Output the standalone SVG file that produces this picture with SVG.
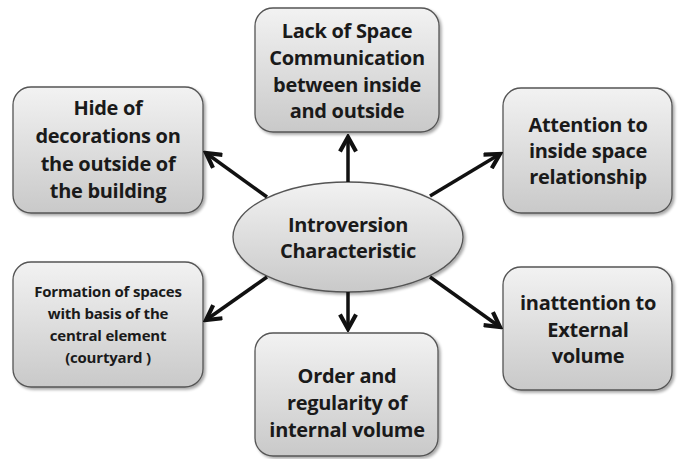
<svg xmlns="http://www.w3.org/2000/svg" width="680" height="459" viewBox="0 0 680 459">
<defs>
<linearGradient id="g" x1="0" y1="0" x2="0" y2="1">
<stop offset="0" stop-color="#f2f2f2"/>
<stop offset="1" stop-color="#c9c9c9"/>
</linearGradient>
<filter id="sh" x="-10%" y="-10%" width="130%" height="130%">
<feGaussianBlur in="SourceAlpha" stdDeviation="1.5"/>
<feOffset dx="1.5" dy="2" result="o"/>
<feComponentTransfer><feFuncA type="linear" slope="0.35"/></feComponentTransfer>
<feMerge><feMergeNode/><feMergeNode in="SourceGraphic"/></feMerge>
</filter>
<marker id="ah" viewBox="0 0 12 12" refX="10" refY="6" markerWidth="5.5" markerHeight="5.5" orient="auto" markerUnits="strokeWidth">
<path d="M1,1 L10,6 L1,11" fill="none" stroke="#111" stroke-width="2.6" stroke-linejoin="miter"/>
</marker>
<style>
.box{fill:url(#g);stroke:#555;stroke-width:1.3;filter:url(#sh)}
.t{font-family:"Open Sans","Liberation Sans",sans-serif;font-weight:bold;fill:#1a1a1a;text-anchor:middle}
.big{font-size:20px;letter-spacing:-0.3px}
.sm{font-size:15px;letter-spacing:-0.2px}
.c line{stroke:#111;stroke-width:3.5;marker-end:url(#ah)}
</style>
</defs>
<rect width="680" height="459" fill="#fff"/>
<g id="top">
<rect class="box" x="255" y="8" width="184" height="124" rx="18"/>
<text class="t big" x="347" y="38">Lack of Space</text>
<text class="t big" x="347" y="65">Communication</text>
<text class="t big" x="347" y="92">between inside</text>
<text class="t big" x="347" y="118">and outside</text>
</g>
<g id="topleft">
<rect class="box" x="13" y="87" width="190" height="126" rx="18"/>
<text class="t big" x="108" y="115">Hide of</text>
<text class="t big" x="108" y="143">decorations on</text>
<text class="t big" x="108" y="171">the outside of</text>
<text class="t big" x="108" y="198">the building</text>
</g>
<g id="topright">
<rect class="box" x="503" y="88" width="169" height="125" rx="18"/>
<text class="t big" x="588" y="132">Attention to</text>
<text class="t big" x="588" y="158">inside space</text>
<text class="t big" x="588" y="184">relationship</text>
</g>
<g id="bottomleft">
<rect class="box" x="13" y="262" width="190" height="125" rx="18"/>
<text class="t sm" x="108" y="297">Formation of spaces</text>
<text class="t sm" x="108" y="319">with basis of the</text>
<text class="t sm" x="108" y="341">central element</text>
<text class="t sm" x="108" y="363">(courtyard )</text>
</g>
<g id="bottom">
<rect class="box" x="255" y="333" width="183" height="123" rx="18"/>
<text class="t big" x="347" y="383">Order and</text>
<text class="t big" x="347" y="410">regularity of</text>
<text class="t big" x="347" y="437">internal volume</text>
</g>
<g id="bottomright">
<rect class="box" x="503" y="267" width="169" height="123" rx="18"/>
<text class="t big" x="588" y="310">inattention to</text>
<text class="t big" x="588" y="337">External</text>
<text class="t big" x="588" y="363">volume</text>
</g>
<g id="center">
<ellipse class="box" cx="348" cy="237" rx="115" ry="55"/>
<text class="t big" x="348" y="232">Introversion</text>
<text class="t big" x="348" y="258">Characteristic</text>
</g>
<g class="c" id="connectors">
<line x1="348" y1="182" x2="348" y2="137"/>
<line x1="267" y1="197" x2="206" y2="153"/>
<line x1="430" y1="196" x2="500" y2="154"/>
<line x1="267" y1="277" x2="206" y2="320"/>
<line x1="348" y1="292" x2="348" y2="329"/>
<line x1="430" y1="277" x2="500" y2="327"/>
</g>
</svg>
